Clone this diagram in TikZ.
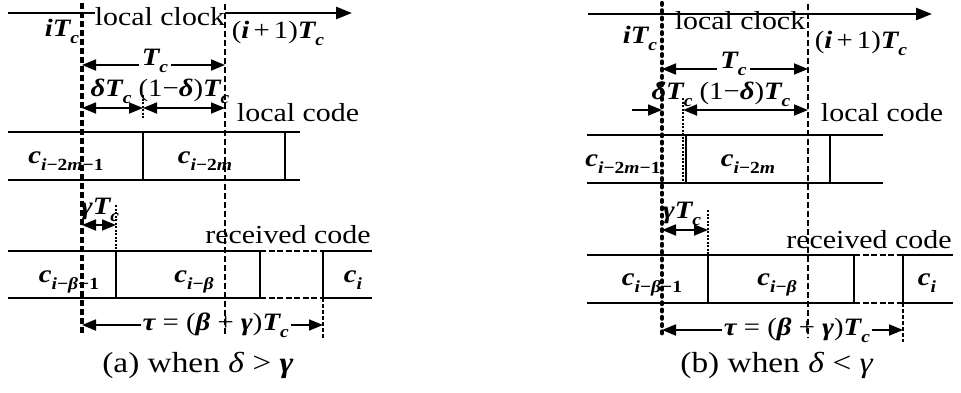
\documentclass[tikz,border=0pt]{standalone}
\usepackage{fontspec}
\setmainfont{Liberation Serif}[FakeStretch=1.15]
\usetikzlibrary{arrows.meta}
\newcommand\mysub[1]{\raisebox{-0.28em}{\fontsize{17}{17}\selectfont\bfseries #1}}
\newcommand\mth[1]{{\bfseries\itshape #1}}
\tikzset{
  axisline/.style={line width=2.6pt,-{Triangle[length=16pt,width=12pt]}},
  boxline/.style={line width=1.7pt},
  septhick/.style={line width=2.4pt},
  dimarrow/.style={line width=1.8pt,{Triangle[length=14pt,width=11pt]}-{Triangle[length=14pt,width=11pt]}},
  onearrow/.style={line width=1.8pt,-{Triangle[length=14pt,width=11pt]}},
  bigdash/.style={line width=3.4pt,dash pattern=on 6pt off 3pt},
  bigdots/.style={line width=4.2pt,line cap=round,dash pattern=on 1.8pt off 5.5pt},
  middash/.style={line width=2.1pt,dash pattern=on 6pt off 3pt},
  thindash/.style={line width=1.3pt,dash pattern=on 4pt off 2pt},
  finedot/.style={line width=1.1pt,dash pattern=on 2pt off 1.5pt},
  gapdash/.style={line width=1.5pt,dash pattern=on 6pt off 2.5pt},
  txt/.style={inner sep=0pt,anchor=base,font=\fontsize{26}{30}\selectfont},
  mlbl/.style={inner sep=0pt,anchor=base,font=\fontsize{25}{29}\selectfont},
  captxt/.style={inner sep=0pt,anchor=base,font=\fontsize{29}{33}\selectfont},
}
\begin{document}
\begin{tikzpicture}[x=1pt,y=-1pt]
\useasboundingbox (0,0) rectangle (961,392);

%================ panel (a) ================
\coordinate (aA0) at (8,13);   \coordinate (aA1) at (352,13);
\coordinate (aL0) at (82,3);   \coordinate (aL1) at (82,333);
\coordinate (aR0) at (225,4);  \coordinate (aR1) at (225,336);
\coordinate (aB1) at (8,132);  \coordinate (aB2) at (300,132);
\coordinate (aB3) at (8,180);  \coordinate (aB4) at (300,180);
\coordinate (aS1t) at (143,132); \coordinate (aS1b) at (143,180);
\coordinate (aS2t) at (285,132); \coordinate (aS2b) at (285,180);
\coordinate (aC1) at (8,251);   \coordinate (aC2) at (260,251);
\coordinate (aC3) at (323,251); \coordinate (aC4) at (372,251);
\coordinate (aC5) at (8,298);   \coordinate (aC6) at (260,298);
\coordinate (aC7) at (323,298); \coordinate (aC8) at (372,298);
\coordinate (aG0) at (116,205); \coordinate (aGm) at (116,251); \coordinate (aG1) at (116,298);
\coordinate (aT0) at (82,65);   \coordinate (aT1) at (225,65);
\coordinate (aD0) at (82,108);  \coordinate (aDm) at (143,108); \coordinate (aD1) at (225,108);
\coordinate (aDv0) at (143,95); \coordinate (aDv1) at (143,119);
\coordinate (aY0) at (82,225);  \coordinate (aY1) at (116,225);
\coordinate (aU0) at (82,325);  \coordinate (aU1) at (323,325);
\coordinate (aUv0) at (323,298); \coordinate (aUv1) at (323,338);

\draw[axisline] (aA0) -- (aA1);
\draw[boxline] (aB1) -- (aB2) (aB3) -- (aB4);
\draw[boxline] (aS1t) -- (aS1b);
\draw[septhick] (aS2t) -- (aS2b);
\draw[boxline] (aC1) -- (aC2) (aC3) -- (aC4) (aC5) -- (aC6) (aC7) -- (aC8);
\draw[gapdash] (aC2) -- (aC3) (aC6) -- (aC7);
\draw[finedot] (aG0) -- (aGm);
\draw[boxline] (aGm) -- (aG1);
\draw[septhick] (aC2) -- (aC6);
\draw[boxline] (aC3) -- (aC7);
\draw[finedot] (aDv0) -- (aDv1);
\draw[thindash] (aUv0) -- (aUv1);

\draw[dimarrow] (aT0) -- (aT1) node[pos=0.51,mlbl,anchor=center,fill=white,inner xsep=3pt,inner ysep=0pt,yshift=4pt] (aTl) {\mth{T}\mysub{\textit{c}}};
\draw[dimarrow] (aD0) -- (aDm);
\draw[dimarrow] (aDm) -- (aD1);
\draw[dimarrow] (aY0) -- (aY1);
\draw[dimarrow] (aU0) -- (aU1) node[pos=0.555,mlbl,anchor=center,fill=white,inner xsep=2pt] (aUl) {\mth{τ} = (\mth{β} + \mth{γ})\mth{T}\mysub{\textit{c}}};

\node[txt,fill=white] (aLC) at (160,25) {local clock};
\node[mlbl] (aiT) at (62,36) {\mth{iT}\mysub{\textit{c}}};
\node[mlbl] (aiT1) at (278,38) {(\mth{i}\,+\,1)\mth{T}\mysub{\textit{c}}};
\node[mlbl] (adT) at (111,96) {\mth{δT}\mysub{\textit{c}}};
\node[mlbl] (a1dT) at (184,96) {(1−\mth{δ})\mth{T}\mysub{\textit{c}}};
\node[txt] (aLcode) at (298,121) {local code};
\node[mlbl] (ac1) at (66,163) {\mth{c}\mysub{\textit{i}−2\textit{m}−1}};
\node[mlbl] (ac2) at (205,163) {\mth{c}\mysub{\textit{i}−2\textit{m}}};
\node[mlbl] (agT) at (100,214) {\mth{γT}\mysub{\textit{c}}};
\node[txt] (aRcode) at (288,243) {received code};
\node[mlbl] (ac3) at (69,282) {\mth{c}\mysub{\textit{i}−\textit{β}−1}};
\node[mlbl] (ac4) at (194,282) {\mth{c}\mysub{\textit{i}−\textit{β}}};
\node[mlbl] (ac5) at (353,282) {\mth{c}\mysub{\textit{i}}};
\node[captxt] (acap) at (198,372) {(a) when \textit{δ} > \mth{γ}};

\draw[bigdash] (aL0) -- (aL1);
\draw[middash] (aR0) -- (aR1);

%================ panel (b) ================
\coordinate (bA0) at (588,14);  \coordinate (bA1) at (932,14);
\coordinate (bL0) at (662,3);   \coordinate (bL1) at (662,336);
\coordinate (bR0) at (808,4);   \coordinate (bR1) at (808,338);
\coordinate (bB1) at (587,135); \coordinate (bB2) at (883,135);
\coordinate (bB3) at (587,183); \coordinate (bB4) at (883,183);
\coordinate (bS1t) at (686,135); \coordinate (bS1b) at (686,183);
\coordinate (bS2t) at (830,135); \coordinate (bS2b) at (830,183);
\coordinate (bC1) at (587,255); \coordinate (bC2) at (854,255);
\coordinate (bC3) at (903,255); \coordinate (bC4) at (953,255);
\coordinate (bC5) at (587,303); \coordinate (bC6) at (854,303);
\coordinate (bC7) at (903,303); \coordinate (bC8) at (953,303);
\coordinate (bG0) at (708,210); \coordinate (bG1) at (708,255);
\coordinate (bGs1) at (708,303);
\coordinate (bT0) at (662,69);  \coordinate (bT1) at (808,69);
\coordinate (bD0) at (632,110); \coordinate (bDL) at (662,110);
\coordinate (bDm) at (683,110); \coordinate (bD1) at (808,110);
\coordinate (bDv0) at (683,98); \coordinate (bDv1) at (683,183);
\coordinate (bY0) at (662,230); \coordinate (bY1) at (708,230);
\coordinate (bU0) at (662,330); \coordinate (bU1) at (903,330);
\coordinate (bUv0) at (903,303); \coordinate (bUv1) at (903,342);

\draw[axisline] (bA0) -- (bA1);
\draw[boxline] (bB1) -- (bB2) (bB3) -- (bB4);
\draw[boxline] (bS1t) -- (bS1b);
\draw[septhick] (bS2t) -- (bS2b);
\draw[finedot] (bDv0) -- (bDv1);
\draw[boxline] (bC1) -- (bC2) (bC3) -- (bC4) (bC5) -- (bC6) (bC7) -- (bC8);
\draw[gapdash] (bC2) -- (bC3) (bC6) -- (bC7);
\draw[finedot] (bG0) -- (bG1);
\draw[boxline] (bG1) -- (bGs1);
\draw[boxline] (bC2) -- (bC6);
\draw[boxline] (bC3) -- (bC7);
\draw[thindash] (bUv0) -- (bUv1);

\draw[dimarrow] (bT0) -- (bT1) node[pos=0.49,mlbl,anchor=center,fill=white,inner xsep=3pt,inner ysep=0pt,yshift=5.5pt] (bTl) {\mth{T}\mysub{\textit{c}}};
\draw[onearrow] (bD0) -- (bDL);
\draw[dimarrow] (bDm) -- (bD1);
\draw[dimarrow] (bY0) -- (bY1);
\draw[dimarrow] (bU0) -- (bU1) node[pos=0.56,mlbl,anchor=center,fill=white,inner xsep=2pt] (bUl) {\mth{τ} = (\mth{β} + \mth{γ})\mth{T}\mysub{\textit{c}}};

\node[txt] (bLC) at (740,29) {local clock};
\node[mlbl] (biT) at (640,43) {\mth{iT}\mysub{\textit{c}}};
\node[mlbl] (biT1) at (861,48) {(\mth{i}\,+\,1)\mth{T}\mysub{\textit{c}}};
\node[mlbl] (bdT) at (672,99) {\mth{δT}\mysub{\textit{c}}};
\node[mlbl] (b1dT) at (745,99) {(1−\mth{δ})\mth{T}\mysub{\textit{c}}};
\node[txt] (bLcode) at (882,121) {local code};
\node[mlbl] (bc1) at (623,166) {\mth{c}\mysub{\textit{i}−2\textit{m}−1}};
\node[mlbl] (bc2) at (748,166) {\mth{c}\mysub{\textit{i}−2\textit{m}}};
\node[mlbl] (bgT) at (682,218) {\mth{γT}\mysub{\textit{c}}};
\node[txt] (bRcode) at (869,248) {received code};
\node[mlbl] (bc3) at (652,285) {\mth{c}\mysub{\textit{i}−\textit{β}−1}};
\node[mlbl] (bc4) at (777,285) {\mth{c}\mysub{\textit{i}−\textit{β}}};
\node[mlbl] (bc5) at (927,285) {\mth{c}\mysub{\textit{i}}};
\node[captxt] (bcap) at (777,372) {(b) when \textit{δ} < \textit{γ}};

\draw[bigdots] (bL0) -- (bL1);
\draw[middash] (bR0) -- (bR1);
\end{tikzpicture}
\end{document}
